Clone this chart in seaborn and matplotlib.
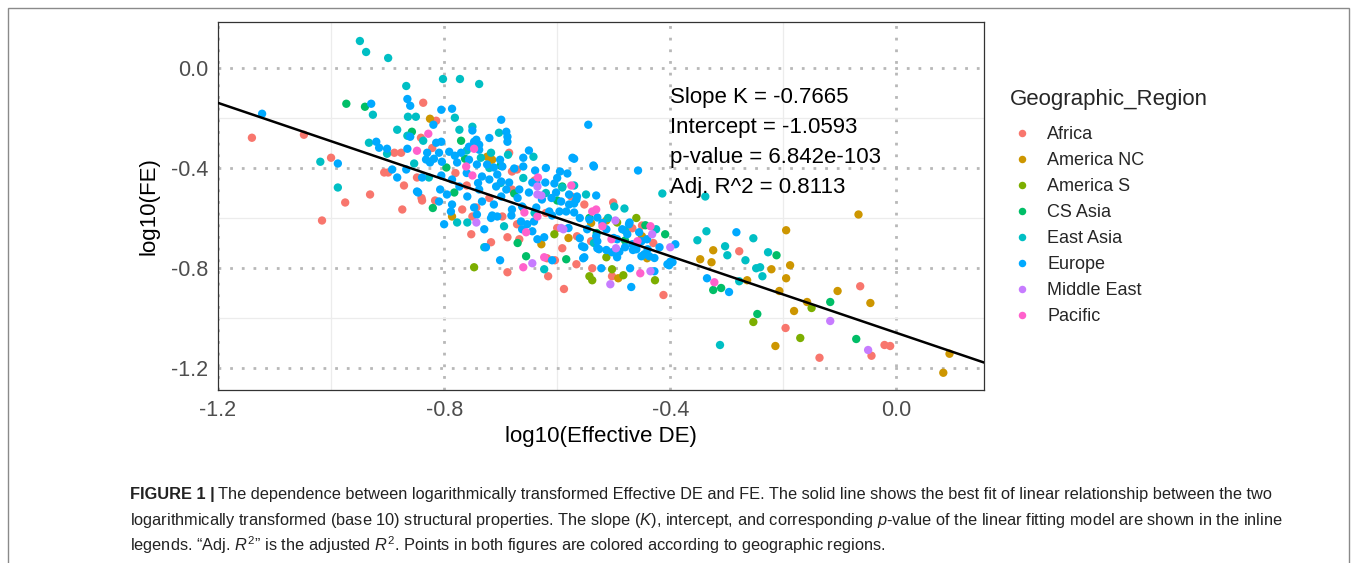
import matplotlib
matplotlib.use("Agg")
import matplotlib.pyplot as plt
import matplotlib.patches as patches
import seaborn as sns
import pandas as pd

# ---- data: (log10 Effective DE, log10 FE), per region ----
africa = [(-1.140, -0.279), (-1.048, -0.267), (-1.000, -0.359), (-1.016, -0.610), (-0.975, -0.538),
          (-0.931, -0.506), (-0.871, -0.470), (-0.874, -0.566), (-0.839, -0.530), (-0.816, -0.530),
          (-0.906, -0.418), (-0.899, -0.418), (-0.888, -0.339), (-0.876, -0.339), (-0.837, -0.139),
          (-0.814, -0.211), (-0.841, -0.279), (-0.821, -0.320), (-0.848, -0.438), (-0.840, -0.520),
          (-0.768, -0.566), (-0.752, -0.665), (-0.717, -0.697), (-0.688, -0.677), (-0.667, -0.685),
          (-0.688, -0.817), (-0.697, -0.594), (-0.750, -0.594), (-0.618, -0.761), (-0.616, -0.833),
          (-0.604, -0.769), (-0.591, -0.721), (-0.588, -0.884), (-0.566, -0.785), (-0.552, -0.546),
          (-0.540, -0.693), (-0.538, -0.801), (-0.501, -0.538), (-0.503, -0.833), (-0.412, -0.908),
          (-0.565, -0.673), (-0.671, -0.625), (-0.278, -0.733), (-0.064, -0.873), (-0.196, -1.040),
          (-0.136, -1.159), (-0.044, -1.151), (-0.021, -1.108), (-0.011, -1.112), (-0.680, -0.414),
          (-0.685, -0.339), (-0.671, -0.406), (-0.743, -0.558), (-0.680, -0.486), (-0.575, -0.514),
          (-0.467, -0.641), (-0.760, -0.470), (-0.720, -0.520), (-0.620, -0.580), (-0.450, -0.630),
          (-0.430, -0.700), (-0.600, -0.640), (-0.780, -0.420), (-0.640, -0.450)]

america_nc = [(-0.825, -0.203), (-0.724, -0.355), (-0.715, -0.367), (-0.786, -0.594), (-0.628, -0.705),
              (-0.513, -0.610), (-0.492, -0.841), (-0.441, -0.761), (-0.450, -0.673), (-0.067, -0.586),
              (-0.195, -0.649), (-0.324, -0.729), (-0.347, -0.765), (-0.327, -0.777), (-0.188, -0.789),
              (-0.221, -0.805), (-0.195, -0.841), (-0.264, -0.849), (-0.207, -0.892), (-0.104, -0.892),
              (-0.046, -0.940), (-0.158, -0.936), (-0.181, -0.972), (-0.214, -1.112), (0.094, -1.143),
              (0.083, -1.219), (-0.580, -0.680), (-0.540, -0.620), (-0.660, -0.560)]

america_s = [(-0.747, -0.797), (-0.543, -0.833), (-0.538, -0.849), (-0.503, -0.805), (-0.483, -0.829),
             (-0.427, -0.849), (-0.605, -0.665), (-0.513, -0.757), (-0.494, -0.618), (-0.253, -1.016),
             (-0.170, -1.080), (-0.150, -0.960), (-0.460, -0.600)]

cs_asia = [(-0.973, -0.143), (-0.940, -0.155), (-0.857, -0.255), (-0.770, -0.291), (-0.796, -0.398),
           (-0.763, -0.363), (-0.782, -0.498), (-0.676, -0.502), (-0.591, -0.474), (-0.655, -0.753),
           (-0.584, -0.765), (-0.444, -0.629), (-0.409, -0.665), (-0.212, -0.749), (-0.324, -0.888),
           (-0.310, -0.880), (-0.246, -0.984), (-0.117, -0.936), (-0.071, -1.084), (-0.543, -0.600),
           (-0.600, -0.530), (-0.700, -0.390), (-0.530, -0.660), (-0.670, -0.700), (-0.820, -0.560),
           (-0.480, -0.690)]

east_asia = [(-0.949, 0.108), (-0.938, 0.064), (-0.899, 0.040), (-0.802, -0.044), (-0.772, -0.044),
             (-0.738, -0.064), (-0.867, -0.072), (-0.864, -0.195), (-0.850, -0.195), (-0.781, -0.199),
             (-0.773, -0.247), (-0.750, -0.235), (-0.703, -0.259), (-0.687, -0.347), (-0.642, -0.355),
             (-0.735, -0.359), (-0.717, -0.339), (-0.414, -0.502), (-1.019, -0.375), (-0.988, -0.478),
             (-0.926, -0.187), (-0.933, -0.299), (-0.901, -0.343), (-0.883, -0.247), (-0.865, -0.271),
             (-0.837, -0.291), (-0.853, -0.382), (-0.827, -0.438), (-0.499, -0.554), (-0.481, -0.562),
             (-0.549, -0.506), (-0.591, -0.478), (-0.425, -0.645), (-0.510, -0.600), (-0.777, -0.618),
             (-0.759, -0.618), (-0.729, -0.717), (-0.694, -0.633), (-0.623, -0.805), (-0.338, -0.514),
             (-0.336, -0.653), (-0.352, -0.689), (-0.303, -0.713), (-0.299, -0.749), (-0.253, -0.681),
             (-0.267, -0.769), (-0.227, -0.737), (-0.248, -0.801), (-0.241, -0.797), (-0.237, -0.833),
             (-0.278, -0.853), (-0.312, -1.108), (-0.720, -0.400), (-0.660, -0.440), (-0.620, -0.500),
             (-0.570, -0.470), (-0.760, -0.330), (-0.700, -0.460), (-0.640, -0.580), (-0.535, -0.700),
             (-0.480, -0.650)]

europe = [(-1.122, -0.183), (-0.988, -0.382), (-0.929, -0.143), (-0.920, -0.295), (-0.915, -0.319),
          (-0.901, -0.323), (-0.883, -0.438), (-0.865, -0.124), (-0.860, -0.151), (-0.865, -0.323),
          (-0.860, -0.275), (-0.819, -0.227), (-0.846, -0.498), (-0.805, -0.167), (-0.786, -0.163),
          (-0.830, -0.339), (-0.832, -0.366), (-0.825, -0.378), (-0.699, -0.207), (-0.545, -0.227),
          (-0.690, -0.255), (-0.688, -0.275), (-0.535, -0.394), (-0.457, -0.410), (-0.595, -0.414),
          (-0.582, -0.422), (-0.660, -0.359), (-0.660, -0.394), (-0.573, -0.359), (-0.605, -0.462),
          (-0.637, -0.458), (-0.814, -0.299), (-0.805, -0.295), (-0.809, -0.339), (-0.818, -0.363),
          (-0.804, -0.375), (-0.791, -0.335), (-0.781, -0.351), (-0.770, -0.339), (-0.756, -0.315),
          (-0.747, -0.295), (-0.738, -0.327), (-0.777, -0.378), (-0.756, -0.367), (-0.892, -0.406),
          (-0.867, -0.406), (-0.839, -0.438), (-0.805, -0.430), (-0.786, -0.446), (-0.848, -0.494),
          (-0.807, -0.486), (-0.795, -0.506), (-0.773, -0.474), (-0.759, -0.514), (-0.688, -0.295),
          (-0.743, -0.287), (-0.738, -0.307), (-0.701, -0.367), (-0.676, -0.402), (-0.639, -0.410),
          (-0.621, -0.458), (-0.570, -0.363), (-0.742, -0.386), (-0.724, -0.386), (-0.712, -0.398),
          (-0.697, -0.394), (-0.733, -0.434), (-0.720, -0.446), (-0.706, -0.426), (-0.699, -0.454),
          (-0.685, -0.458), (-0.738, -0.486), (-0.708, -0.474), (-0.690, -0.486), (-0.699, -0.514),
          (-0.667, -0.486), (-0.644, -0.458), (-0.650, -0.498), (-0.627, -0.526), (-0.602, -0.498),
          (-0.593, -0.534), (-0.579, -0.546), (-0.566, -0.526), (-0.733, -0.534), (-0.712, -0.546),
          (-0.680, -0.566), (-0.662, -0.554), (-0.637, -0.558), (-0.614, -0.574), (-0.596, -0.574),
          (-0.715, -0.590), (-0.681, -0.590), (-0.609, -0.590), (-0.536, -0.390), (-0.579, -0.506),
          (-0.565, -0.514), (-0.570, -0.542), (-0.584, -0.574), (-0.570, -0.578), (-0.531, -0.510),
          (-0.543, -0.606), (-0.529, -0.598), (-0.547, -0.645), (-0.531, -0.673), (-0.513, -0.645),
          (-0.485, -0.645), (-0.473, -0.625), (-0.476, -0.665), (-0.494, -0.685), (-0.467, -0.705),
          (-0.451, -0.693), (-0.441, -0.685), (-0.460, -0.725), (-0.556, -0.713), (-0.526, -0.725),
          (-0.503, -0.737), (-0.552, -0.757), (-0.494, -0.757), (-0.419, -0.717), (-0.446, -0.745),
          (-0.809, -0.534), (-0.788, -0.574), (-0.786, -0.546), (-0.800, -0.625), (-0.747, -0.558),
          (-0.742, -0.586), (-0.717, -0.600), (-0.706, -0.594), (-0.729, -0.645), (-0.726, -0.717),
          (-0.664, -0.614), (-0.662, -0.645), (-0.653, -0.625), (-0.641, -0.614), (-0.644, -0.653),
          (-0.635, -0.685), (-0.623, -0.677), (-0.701, -0.769), (-0.609, -0.769), (-0.554, -0.761),
          (-0.522, -0.801), (-0.469, -0.876), (-0.471, -0.801), (-0.428, -0.813), (-0.402, -0.789),
          (-0.396, -0.777), (-0.391, -0.705), (-0.451, -0.753), (-0.437, -0.753), (-0.428, -0.760),
          (-0.440, -0.725), (-0.490, -0.735), (-0.480, -0.717), (-0.466, -0.728), (-0.529, -0.721),
          (-0.513, -0.728), (-0.552, -0.717), (-0.529, -0.693), (-0.472, -0.618), (-0.455, -0.657),
          (-0.560, -0.681), (-0.283, -0.657), (-0.335, -0.841), (-0.296, -0.896), (-0.405, -0.785),
          (-0.400, -0.775), (-0.750, -0.250), (-0.720, -0.280), (-0.650, -0.330), (-0.620, -0.400),
          (-0.600, -0.440), (-0.760, -0.420), (-0.740, -0.460), (-0.670, -0.520), (-0.610, -0.520),
          (-0.560, -0.600), (-0.520, -0.620), (-0.500, -0.680), (-0.580, -0.640)]

middle_east = [(-0.743, -0.618), (-0.644, -0.781), (-0.589, -0.645), (-0.635, -0.506), (-0.497, -0.610),
               (-0.496, -0.721), (-0.506, -0.865), (-0.432, -0.665), (-0.435, -0.813), (-0.400, -0.717),
               (-0.117, -1.012), (-0.050, -1.128), (-0.635, -0.474), (-0.628, -0.510), (-0.593, -0.640)]

pacific = [(-0.828, -0.263), (-0.848, -0.331), (-0.747, -0.323), (-0.761, -0.394), (-0.634, -0.438),
           (-0.575, -0.470), (-0.750, -0.430), (-0.658, -0.578), (-0.635, -0.594), (-0.655, -0.657),
           (-0.660, -0.797), (-0.623, -0.757), (-0.538, -0.574), (-0.531, -0.566), (-0.520, -0.633),
           (-0.504, -0.685), (-0.458, -0.693), (-0.435, -0.633), (-0.453, -0.821), (-0.322, -0.857)]

regions = ["Africa", "America NC", "America S", "CS Asia", "East Asia", "Europe", "Middle East", "Pacific"]
region_points = [africa, america_nc, america_s, cs_asia, east_asia, europe, middle_east, pacific]
palette = ["#F8766D", "#CD9600", "#7CAE00", "#00BE67", "#00BFC4", "#00A9FF", "#C77CFF", "#FF61CC"]

# linear fit reported in the figure
slope_k = -0.7665
intercept = -1.0593
fit_labels = ["Slope K = -0.7665", "Intercept = -1.0593", "p-value = 6.842e-103", "Adj. R^2 = 0.8113"]
fit_label_y = [-0.12, -0.24, -0.36, -0.48]

rows = []
for name, pts in zip(regions, region_points):
    for x, y in pts:
        rows.append({"log10(Effective DE)": x, "log10(FE)": y, "Geographic_Region": name})
df = pd.DataFrame(rows)

# ---- style ----
sns.set_style("white")
plt.rcParams["font.family"] = ["Liberation Sans", "DejaVu Sans"]
plt.rcParams["axes.unicode_minus"] = False
plt.rcParams["mathtext.fontset"] = "custom"
plt.rcParams["mathtext.rm"] = "Liberation Sans"
plt.rcParams["mathtext.it"] = "Liberation Sans:italic"
plt.rcParams["mathtext.bf"] = "Liberation Sans:bold"

W, H = 1357, 563
fig = plt.figure(figsize=(W / 100, H / 100), dpi=100)
ax = fig.add_axes([218 / W, 1 - 390 / H, (984 - 218) / W, (390 - 22) / H])

sns.scatterplot(data=df, x="log10(Effective DE)", y="log10(FE)", hue="Geographic_Region",
                hue_order=regions, palette=palette, s=36, linewidth=0, ax=ax, zorder=3)

ax.axline((0, intercept), slope=slope_k, color="black", lw=1.8, zorder=4)

ax.set_xlim(-1.2, 0.155)
ax.set_ylim(-1.288, 0.184)
ax.set_xticks([-1.2, -0.8, -0.4, 0.0])
ax.set_yticks([-1.2, -0.8, -0.4, 0.0])
ax.set_xticklabels(["-1.2", "-0.8", "-0.4", "0.0"])
ax.set_yticklabels(["-1.2", "-0.8", "-0.4", "0.0"])
ax.set_xticks([-1.0, -0.6, -0.2], minor=True)
ax.set_yticks([-1.0, -0.6, -0.2], minor=True)
ax.grid(which="major", color="#b8b8b8", lw=2.0, linestyle=(0, (1, 3.2)), zorder=1)
ax.grid(which="minor", color="#ececec", lw=0.9, linestyle="-", zorder=0)
ax.set_axisbelow(True)
ax.tick_params(which="major", direction="out", length=4, width=0.9, color="#333333",
               labelsize=15.5, labelcolor="#4d4d4d", pad=3)
ax.tick_params(which="minor", length=0)
for sp in ax.spines.values():
    sp.set_color("#333333")
    sp.set_linewidth(0.9)

ax.set_xlabel("log10(Effective DE)", fontsize=16, color="black", labelpad=4)
ax.set_ylabel("log10(FE)", fontsize=16, color="black", labelpad=8)

for lab, ly in zip(fit_labels, fit_label_y):
    ax.text(-0.4, ly, lab, fontsize=16, color="black", ha="left", va="center", zorder=5)

handles, labels = ax.get_legend_handles_labels()
ax.get_legend().remove()
leg = fig.legend(handles, labels, title="Geographic_Region", loc="upper left",
                 bbox_to_anchor=(1001 / W, 1 - 80 / H), frameon=False, fontsize=13,
                 title_fontsize=16, borderpad=0, handlelength=1.3, handletextpad=0.75,
                 labelspacing=0.5, markerscale=0.9)
leg._legend_box.align = "left"
leg._legend_box.sep = 11.5  # wider gap between title and entries

# ---- caption ----
cap_x = 130 / W
cap_size = 11.8
cap_color = "#222222"
bold = fig.text(cap_x, 1 - 494 / H, "FIGURE 1 |", fontsize=cap_size, fontweight="bold",
                color=cap_color, va="center", ha="left")
fig.canvas.draw()
bb = bold.get_window_extent(renderer=fig.canvas.get_renderer())
fig.text(bb.x1 / W + 3 / W, 1 - 494 / H,
         "The dependence between logarithmically transformed Effective DE and FE. The solid line shows "
         "the best fit of linear relationship between the two",
         fontsize=cap_size, color=cap_color, va="center", ha="left")
fig.text(cap_x, 1 - 520 / H,
         "logarithmically transformed (base 10) structural properties. The slope ($K$), intercept, and "
         "corresponding $p$-value of the linear fitting model are shown in the inline",
         fontsize=cap_size, color=cap_color, va="center", ha="left")
fig.text(cap_x, 1 - 545 / H,
         "legends. \u201cAdj. $R^2$\u201d is the adjusted $R^2$. Points in both figures are colored "
         "according to geographic regions.",
         fontsize=cap_size, color=cap_color, va="center", ha="left")

fig.patches.append(patches.Rectangle((8 / W, -0.05), (1349 - 8) / W, 1 - 8 / H + 0.05,
                                     transform=fig.transFigure, fill=False,
                                     edgecolor="#8a8a8a", lw=1.0))

fig.savefig("out.png", dpi=100)
